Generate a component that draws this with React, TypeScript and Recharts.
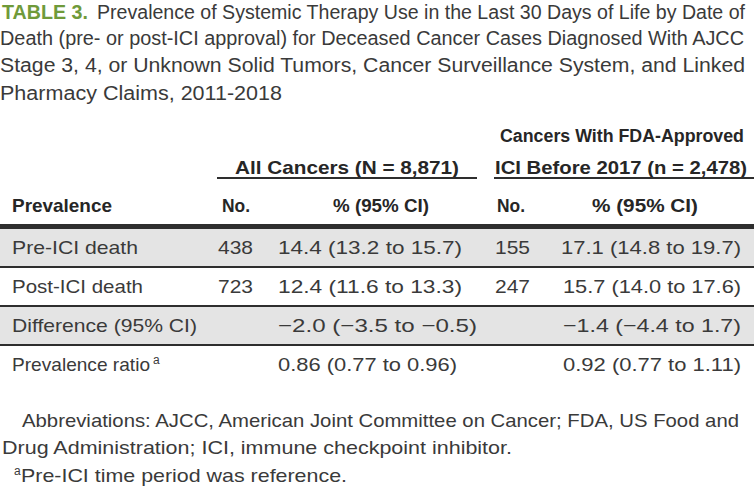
import React from 'react';
import { ComposedChart, XAxis, YAxis, ReferenceArea, Bar, Customized } from 'recharts';

// ---------- data ----------
const titleLead = 'TABLE 3.';
const titleLines = [
  'Prevalence of Systemic Therapy Use in the Last 30 Days of Life by Date of',
  'Death (pre- or post-ICI approval) for Deceased Cancer Cases Diagnosed With AJCC',
  'Stage 3, 4, or Unknown Solid Tumors, Cancer Surveillance System, and Linked',
  'Pharmacy Claims, 2011-2018',
];
const groupAll = ['All Cancers (N = 8,871)'];
const groupIci = ['Cancers With FDA-Approved', 'ICI Before 2017 (n = 2,478)'];
const columnHeaders = ['Prevalence', 'No.', '% (95% CI)', 'No.', '% (95% CI)'];

const rowLabels = ['Pre-ICI death', 'Post-ICI death', 'Difference (95% CI)', 'Prevalence ratio'];
const rowSuperscripts = ['', '', '', 'a'];
const allNo = ['438', '723', '', ''];
const allPct = ['14.4 (13.2 to 15.7)', '12.4 (11.6 to 13.3)', '\u22122.0 (\u22123.5 to \u22120.5)', '0.86 (0.77 to 0.96)'];
const iciNo = ['155', '247', '', ''];
const iciPct = ['17.1 (14.8 to 19.7)', '15.7 (14.0 to 17.6)', '\u22121.4 (\u22124.4 to 1.7)', '0.92 (0.77 to 1.11)'];
const shadedRows = [true, false, true, false];

const footnotes = [
  'Abbreviations: AJCC, American Joint Committee on Cancer; FDA, US Food and',
  'Drug Administration; ICI, immune checkpoint inhibitor.',
];
const footnoteMark = 'a';
const footnoteRef = 'Pre-ICI time period was reference.';

// ---------- styling ----------
const FONT = '"Liberation Sans", Arial, Helvetica, sans-serif';
const FONT_NARROW = '"Liberation Sans Narrow", "Liberation Sans", Arial, sans-serif';
const TEXT = '#3a3a3a';
const DARK = '#262626';
const GREEN = '#6f9a3a';
const SHADE = '#e4e4e4';
const RULE = '#2e2e2e';

const data = rowLabels.map((label, i) => ({ label, blank: 0, idx: i }));

type TP = {
  x: number; y: number; w?: number; anchor?: 'start' | 'middle' | 'end';
  size?: number; weight?: number; fill?: string; family?: string; children: React.ReactNode;
};
const T = ({ x, y, w, anchor = 'start', size = 19, weight = 400, fill = TEXT, family = FONT, children }: TP) => (
  <text
    x={x}
    y={y}
    textAnchor={anchor}
    fontSize={size}
    fontWeight={weight}
    fill={fill}
    fontFamily={family}
    textLength={w}
    lengthAdjust={w ? 'spacingAndGlyphs' : undefined}
  >
    {children}
  </text>
);

const labelWidths = [126, 131, 185, 138];
const allPctWidths = [184, 184, 199, 179];
const iciPctWidths = [180, 178, 178, 178];

const RowTick = (props: any) => {
  const { y, payload } = props;
  const i = rowLabels.indexOf(payload && payload.value);
  if (i < 0) return null;
  const half = 19.5;
  const base = y + 5;
  return (
    <g>
      {i === 0 && <rect x={0} y={y - half - 5} width={754} height={5} fill={RULE} />}
      {i < rowLabels.length - 1 && <rect x={0} y={y + half - 2} width={754} height={2} fill={RULE} />}
      <T x={12} y={base} w={labelWidths[i]}>{rowLabels[i]}</T>
      {rowSuperscripts[i] && (
        <T x={153} y={base - 7} size={12}>{rowSuperscripts[i]}</T>
      )}
      {allNo[i] && <T x={253} y={base} anchor="end" w={35}>{allNo[i]}</T>}
      <T x={278} y={base} w={allPctWidths[i]}>{allPct[i]}</T>
      {iciNo[i] && <T x={530} y={base} anchor="end" w={35}>{iciNo[i]}</T>}
      <T x={741} y={base} anchor="end" w={iciPctWidths[i]}>{iciPct[i]}</T>
    </g>
  );
};

const HeaderLayer = () => (
  <g>
    {/* title */}
    <T x={2} y={19} w={86} size={21} weight={700} fill={GREEN} family={FONT_NARROW}>{titleLead}</T>
    <T x={97} y={19} w={648} size={19.5}>{titleLines[0]}</T>
    <T x={0} y={45} w={744} size={19.5}>{titleLines[1]}</T>
    <T x={0} y={72} w={745} size={19.5}>{titleLines[2]}</T>
    <T x={0} y={100} w={282} size={19.5}>{titleLines[3]}</T>

    {/* group headers */}
    <T x={347} y={174} anchor="middle" w={224} weight={700} fill={DARK} family={FONT_NARROW}>{groupAll[0]}</T>
    <rect x={217} y={177} width={260} height={2} fill={RULE} />
    <T x={622} y={142} anchor="middle" w={244} size={17.5} weight={700} fill={DARK} family={FONT_NARROW}>{groupIci[0]}</T>
    <T x={621} y={174} anchor="middle" w={252} weight={700} fill={DARK} family={FONT_NARROW}>{groupIci[1]}</T>
    <rect x={494} y={177} width={260} height={2} fill={RULE} />

    {/* column headers */}
    <T x={12} y={212} w={100} weight={700} fill={DARK} family={FONT_NARROW}>{columnHeaders[0]}</T>
    <T x={222} y={212} w={28} weight={700} fill={DARK} family={FONT_NARROW}>{columnHeaders[1]}</T>
    <T x={381} y={212} anchor="middle" w={96} weight={700} fill={DARK} family={FONT_NARROW}>{columnHeaders[2]}</T>
    <T x={497} y={212} w={28} weight={700} fill={DARK} family={FONT_NARROW}>{columnHeaders[3]}</T>
    <T x={645} y={212} anchor="middle" w={106} weight={700} fill={DARK} family={FONT_NARROW}>{columnHeaders[4]}</T>

    {/* footnotes */}
    <T x={22} y={427} w={717}>{footnotes[0]}</T>
    <T x={2} y={454} w={510}>{footnotes[1]}</T>
    <T x={14} y={475} size={12}>{footnoteMark}</T>
    <T x={21} y={482} w={326}>{footnoteRef}</T>
  </g>
);

export default function App() {
  return (
    <div style={{ position: 'absolute', left: 0, top: 0, width: 754, height: 492, background: '#fff' }}>
      <ComposedChart
        width={754}
        height={492}
        data={data}
        layout="vertical"
        margin={{ top: 229, right: 0, bottom: 107, left: 0 }}
      >
        <XAxis type="number" hide domain={[0, 1]} />
        {shadedRows.map((s, i) =>
          s ? (
            <ReferenceArea
              key={i}
              y1={rowLabels[i]}
              y2={rowLabels[i]}
              fill={SHADE}
              fillOpacity={1}
              stroke="none"
              ifOverflow="visible"
            />
          ) : null
        )}
        <Bar dataKey="blank" fill="none" isAnimationActive={false} />
        <YAxis
          type="category"
          dataKey="label"
          width={1}
          mirror
          axisLine={false}
          tickLine={false}
          interval={0}
          tick={(p: any) => <RowTick {...p} />}
        />
        <Customized component={<HeaderLayer />} />
      </ComposedChart>
    </div>
  );
}
